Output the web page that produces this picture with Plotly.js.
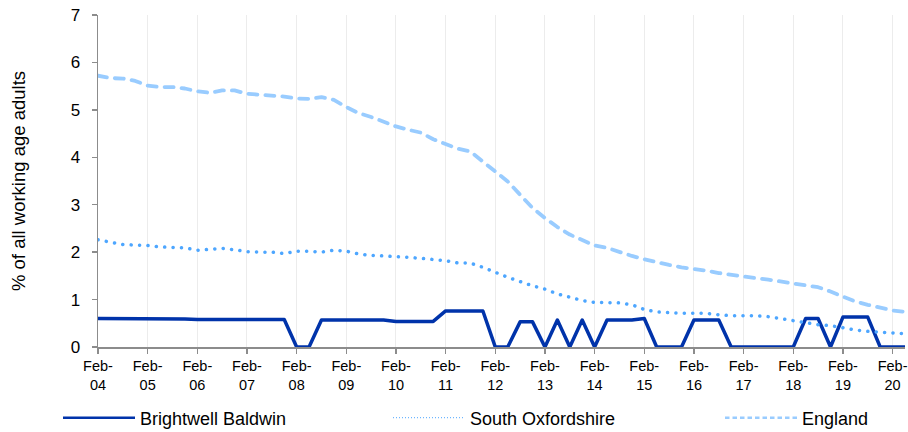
<!DOCTYPE html>
<html>
<head>
<meta charset="utf-8">
<script src="https://cdn.plot.ly/plotly-3.0.1.min.js"></script>
<style>
html, body { margin: 0; padding: 0; background: #fff; }
#chart { width: 908px; height: 432px; }
.scatterlayer .js-line { stroke-linecap: round; stroke-linejoin: round; }
g.legend .legendlines path { stroke-width: 2.5px !important; }
g.legend2 .legendlines path { stroke-width: 1px !important; stroke-dasharray: 1px,2px !important; }
g.legend3 .legendlines path { stroke-width: 2.5px !important; stroke-dasharray: 4.5px,3px !important; }
</style>
</head>
<body>
<div id="chart"></div>
<script>
// Quarterly observations, Feb-04 .. May-20 (index 0..65)
const tickYears = ["04","05","06","07","08","09","10","11","12","13","14","15","16","17","18","19","20"];

const brightwellBaldwin = [
  0.60, 0.60, 0.60, 0.60, 0.59, 0.59, 0.59, 0.59, 0.58, 0.58, 0.58, 0.58, 0.58, 0.58, 0.58, 0.58,
  0, 0, 0.57, 0.57, 0.57, 0.57, 0.57, 0.57, 0.54, 0.54, 0.54, 0.54, 0.76, 0.76, 0.76, 0.76,
  0, 0, 0.53, 0.53, 0, 0.57, 0, 0.57, 0, 0.57, 0.57, 0.57, 0.60, 0, 0, 0,
  0.57, 0.57, 0.57, 0, 0, 0, 0, 0, 0, 0.60, 0.60, 0, 0.63, 0.63, 0.63, 0, 0, 0
];

const southOxfordshire = [
  2.26, 2.21, 2.16, 2.15, 2.14, 2.11, 2.10, 2.09, 2.04, 2.06, 2.08, 2.05, 2.01, 2.00, 2.00, 1.97,
  2.02, 2.02, 2.00, 2.04, 2.02, 1.96, 1.93, 1.92, 1.91, 1.89, 1.87, 1.85, 1.82, 1.77, 1.77, 1.68,
  1.57, 1.47, 1.38, 1.29, 1.22, 1.12, 1.05, 0.98, 0.94, 0.94, 0.93, 0.89, 0.79, 0.74, 0.72, 0.71,
  0.71, 0.71, 0.68, 0.66, 0.66, 0.66, 0.64, 0.60, 0.56, 0.52, 0.47, 0.45, 0.40, 0.36, 0.33, 0.31,
  0.29, 0.28
];

const england = [
  5.72, 5.67, 5.66, 5.61, 5.51, 5.48, 5.48, 5.45, 5.39, 5.36, 5.41, 5.41, 5.34, 5.32, 5.32, 5.28,
  5.24, 5.23, 5.27, 5.21, 5.06, 4.93, 4.85, 4.75, 4.65, 4.58, 4.52, 4.38, 4.27, 4.18, 4.12, 3.91,
  3.70, 3.49, 3.21, 2.93, 2.72, 2.53, 2.37, 2.25, 2.14, 2.09, 2.00, 1.92, 1.85, 1.78, 1.73, 1.68,
  1.65, 1.61, 1.56, 1.52, 1.47, 1.45, 1.42, 1.38, 1.35, 1.31, 1.26, 1.17, 1.07, 0.96, 0.89, 0.82,
  0.77, 0.74
];

const idx = brightwellBaldwin.map((_, i) => i);
const tickVals = tickYears.map((_, i) => i * 4);
const tickText = tickYears.map(y => "Feb-<br>" + y);

const traces = [
  { x: idx, y: brightwellBaldwin, name: "Brightwell Baldwin", type: "scatter", mode: "lines",
    legend: "legend", line: { color: "#0033aa", width: 3.5 } },
  { x: idx, y: southOxfordshire, name: "South Oxfordshire", type: "scatter", mode: "lines",
    legend: "legend2", line: { color: "#4da6ff", width: 3.5, dash: "0.1px,8.3px" } },
  { x: idx, y: england, name: "England", type: "scatter", mode: "lines",
    legend: "legend3", line: { color: "#99ccff", width: 3.8, dash: "9px,8px" } }
];

function legendAt(xPx) {
  return {
    orientation: "h", xref: "container", yref: "container",
    x: xPx / 908, xanchor: "left", y: 1 - 418 / 432, yanchor: "middle",
    font: { size: 18, family: "Liberation Sans, Arial, sans-serif", color: "#000" },
    itemwidth: 72, bgcolor: "rgba(0,0,0,0)"
  };
}

const layout = {
  width: 908, height: 432,
  margin: { l: 98, r: 3, t: 15, b: 85 },
  paper_bgcolor: "#fff", plot_bgcolor: "#fff",
  font: { family: "Liberation Sans, Arial, sans-serif", color: "#000" },
  showlegend: true,
  legend: legendAt(58),
  legend2: legendAt(388),
  legend3: legendAt(720),
  xaxis: {
    range: [0, 65], tickmode: "array", tickvals: tickVals, ticktext: tickText,
    showgrid: true, gridcolor: "#ececec", gridwidth: 1,
    showline: true, linecolor: "#8c8c8c", linewidth: 1.5,
    ticks: "outside", ticklen: 5, tickcolor: "#8c8c8c", tickwidth: 1.5,
    tickfont: { size: 14.5, family: "Liberation Sans, Arial, sans-serif" },
    zeroline: false, fixedrange: true, automargin: false
  },
  yaxis: {
    range: [0, 7], dtick: 1, tick0: 0,
    showgrid: false, showline: true, linecolor: "#8c8c8c", linewidth: 1.5,
    ticks: "outside", ticklen: 5, tickcolor: "#8c8c8c", tickwidth: 1.5,
    ticklabelstandoff: 8,
    tickfont: { size: 17, family: "Liberation Sans, Arial, sans-serif" },
    title: { text: "% of all working age adults", font: { size: 18.5, family: "Liberation Sans, Arial, sans-serif" }, standoff: 40 },
    zeroline: false, fixedrange: true, automargin: false
  }
};

Plotly.newPlot("chart", traces, layout, { displayModeBar: false, staticPlot: true });
</script>
</body>
</html>
